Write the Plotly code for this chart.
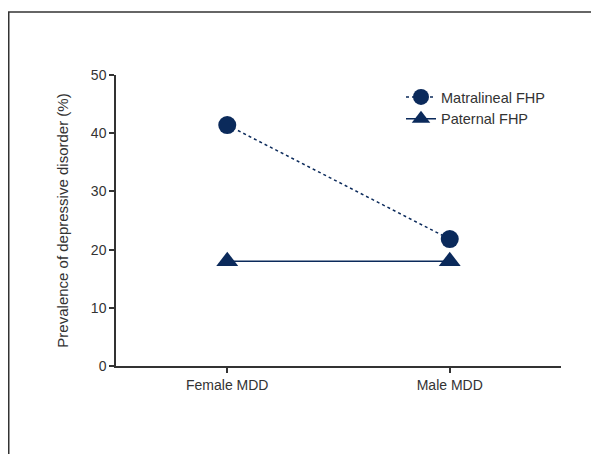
import plotly.graph_objects as go

categories = ["Female MDD", "Male MDD"]
matralineal = [41.4, 21.8]
paternal = [18.0, 18.0]
y_ticks = [0, 10, 20, 30, 40, 50]

navy = "#0b2a5b"
font = "Liberation Sans, Arial, sans-serif"

fig = go.Figure()
fig.add_trace(go.Scatter(
    x=[0, 1], y=matralineal, name="Matralineal FHP", mode="lines+markers",
    line=dict(color=navy, width=1.5, dash="dot"),
    marker=dict(symbol="circle", size=18, color=navy)))
fig.add_trace(go.Scatter(
    x=[0, 1], y=paternal, name="Paternal FHP", mode="lines+markers",
    line=dict(color=navy, width=1.5),
    marker=dict(symbol="triangle-up", size=19, color=navy)))

# page body has an 8px margin, so figure coords = window coords - 8
W, H = 591, 446
L, T = 108, 67
R, B = W - 553, H - 358
pw, ph = W - L - R, H - T - B
def px(x): return (x - L) / pw
def py(y): return (H - B - y) / ph

fig.update_layout(
    width=W, height=H,
    margin=dict(l=L, r=R, t=T, b=B),
    paper_bgcolor="white", plot_bgcolor="white",
    font=dict(family=font, size=14, color="#333333"),
    showlegend=True,
    legend=dict(x=px(393), y=py(73), xanchor="left", yanchor="top",
                bgcolor="rgba(0,0,0,0)", font=dict(size=14.5, color="#333333"),
                tracegroupgap=0, itemwidth=30),
    xaxis=dict(range=[-0.5, 1.5], tickvals=[0, 1], ticktext=categories,
               showgrid=False, zeroline=False, showline=True,
               linecolor="#333333", linewidth=1.5, ticks="outside",
               ticklen=5, tickcolor="#333333", tickwidth=1.5),
    yaxis=dict(range=[0, 50], tickvals=y_ticks, showgrid=False, zeroline=False,
               showline=True, linecolor="#333333", linewidth=1.5,
               ticks="outside", ticklen=5, tickcolor="#333333", tickwidth=1.5,
               title=dict(text="Prevalence of depressive disorder (%)",
                          font=dict(size=15), standoff=19)),
    shapes=[
        dict(type="line", xref="paper", yref="paper", x0=px(0), x1=px(W + 2),
             y0=py(4), y1=py(4), line=dict(color="#333333", width=1.5)),
        dict(type="line", xref="paper", yref="paper", x0=px(0.75), x1=px(0.75),
             y0=py(4), y1=py(H + 2), line=dict(color="#333333", width=1.5)),
    ],
)

fig.write_html("out.html")
